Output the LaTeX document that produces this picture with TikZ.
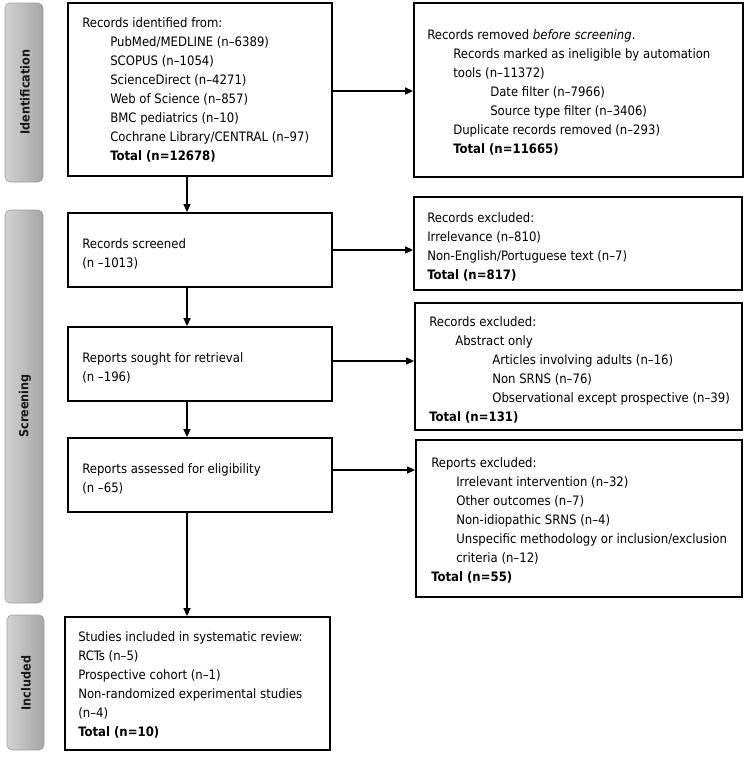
\documentclass[tikz,border=0pt]{standalone}
\usepackage{fontspec}
\setmainfont{DejaVu Sans Condensed}
\usetikzlibrary{arrows.meta}
\begin{document}
\begin{tikzpicture}[x=1pt,y=-1pt,
  box/.style={draw=black,line width=1.8pt,inner sep=0pt},
  txt/.style={anchor=west,align=left,inner sep=0pt,font=\fontsize{13}{19}\selectfont},
  bar/.style={rounded corners=5pt,left color=gray!35,right color=gray!70,draw=gray!75,line width=0.6pt},
  barlabel/.style={rotate=90,font=\fontsize{12.5}{14}\selectfont\bfseries,text=black!90},
  arr/.style={line width=1.3pt,-{Triangle[length=8pt,width=7pt]}}]
\useasboundingbox (0,0) rectangle (750,758);
\newcommand{\ia}{\hspace*{26pt}}
\newcommand{\ib}{\hspace*{63pt}}
% side bars
\draw[bar] (5,3) rectangle (43,182);
\node[barlabel] (lid) at (25,92) {Identification};
\draw[bar] (5,210) rectangle (43,603);
\node[barlabel] (lsc) at (25,406) {Screening};
\draw[bar] (7,615) rectangle (44,750);
\node[barlabel] (lin) at (26,683) {Included};
% boxes
\node[box,minimum width=264pt,minimum height=173pt] (ident) at (200,89.5) {};
\node[txt] (identt) at ([xshift=15pt]ident.west) {Records identified from:\\
\hspace*{28pt}PubMed/MEDLINE (n–6389)\\
\hspace*{28pt}SCOPUS (n–1054)\\
\hspace*{28pt}ScienceDirect (n–4271)\\
\hspace*{28pt}Web of Science (n–857)\\
\hspace*{28pt}BMC pediatrics (n–10)\\
\hspace*{28pt}Cochrane Library/CENTRAL (n–97)\\
\hspace*{28pt}\textbf{Total (n=12678)}};
\node[box,minimum width=329pt,minimum height=174pt] (removed) at (578.5,90) {};
\node[txt] (removedt) at ([xshift=14pt,yshift=-2pt]removed.west) {Records removed \textit{before screening}.\\
\ia Records marked as ineligible by automation\\
\ia tools (n–11372)\\
\ib Date filter (n–7966)\\
\ib Source type filter (n–3406)\\
\ia Duplicate records removed (n–293)\\
\ia \textbf{Total (n=11665)}};
\node[box,minimum width=264pt,minimum height=74pt] (screened) at (200,250) {};
\node[txt] (screenedt) at ([xshift=15pt,yshift=-4pt]screened.west) {Records screened\\(n –1013)};
\node[box,minimum width=328pt,minimum height=93pt] (excl1) at (578,243.5) {};
\node[txt] (excl1t) at ([xshift=14pt,yshift=-3pt]excl1.west) {Records excluded:\\
Irrelevance (n–810)\\
Non-English/Portuguese text (n–7)\\
\textbf{Total (n=817)}};
\node[box,minimum width=264pt,minimum height=74pt] (sought) at (200,364) {};
\node[txt] (soughtt) at ([xshift=15pt,yshift=-4pt]sought.west) {Reports sought for retrieval\\(n –196)};
\node[box,minimum width=327pt,minimum height=127pt] (excl2) at (578.5,366.5) {};
\node[txt] (excl2t) at ([xshift=15pt,yshift=-3pt]excl2.west) {Records excluded:\\
\ia Abstract only\\
\ib Articles involving adults (n–16)\\
\ib Non SRNS (n–76)\\
\ib Observational except prospective (n–39)\\
\textbf{Total (n=131)}};
\node[box,minimum width=264pt,minimum height=74pt] (assessed) at (200,475) {};
\node[txt] (assessedt) at ([xshift=15pt,yshift=-4pt]assessed.west) {Reports assessed for eligibility\\(n –65)};
\node[box,minimum width=326pt,minimum height=157pt] (excl3) at (579,518.5) {};
\node[txt] (excl3t) at ([xshift=16pt,yshift=-1.5pt]excl3.west) {Reports excluded:\\
\hspace*{25pt}Irrelevant intervention (n–32)\\
\hspace*{25pt}Other outcomes (n–7)\\
\hspace*{25pt}Non-idiopathic SRNS (n–4)\\
\hspace*{25pt}Unspecific methodology or inclusion/exclusion\\
\hspace*{25pt}criteria (n–12)\\
\textbf{Total (n=55)}};
\node[box,minimum width=265pt,minimum height=133pt] (incl) at (197.5,683.5) {};
\node[txt] (inclt) at ([xshift=14pt,yshift=-1pt]incl.west) {Studies included in systematic review:\\
RCTs (n–5)\\
Prospective cohort (n–1)\\
Non-randomized experimental studies\\
(n–4)\\
\textbf{Total (n=10)}};
% connectors
\coordinate (vx) at (187,0);
\draw[arr] (ident.south -| vx) -- (screened.north -| vx);
\draw[arr] (screened.south -| vx) -- (sought.north -| vx);
\draw[arr] (sought.south -| vx) -- (assessed.north -| vx);
\draw[arr] (assessed.south -| vx) -- (incl.north -| vx);
\draw[arr] ([yshift=-1.5pt]ident.east) -- ([yshift=-1.5pt]ident.east -| removed.west);
\draw[arr] (screened.east) -- (screened.east -| excl1.west);
\draw[arr] ([yshift=3pt]sought.east) -- ([yshift=3pt]sought.east -| excl2.west);
\draw[arr] ([yshift=5pt]assessed.east) -- ([yshift=5pt]assessed.east -| excl3.west);
\end{tikzpicture}
\end{document}
